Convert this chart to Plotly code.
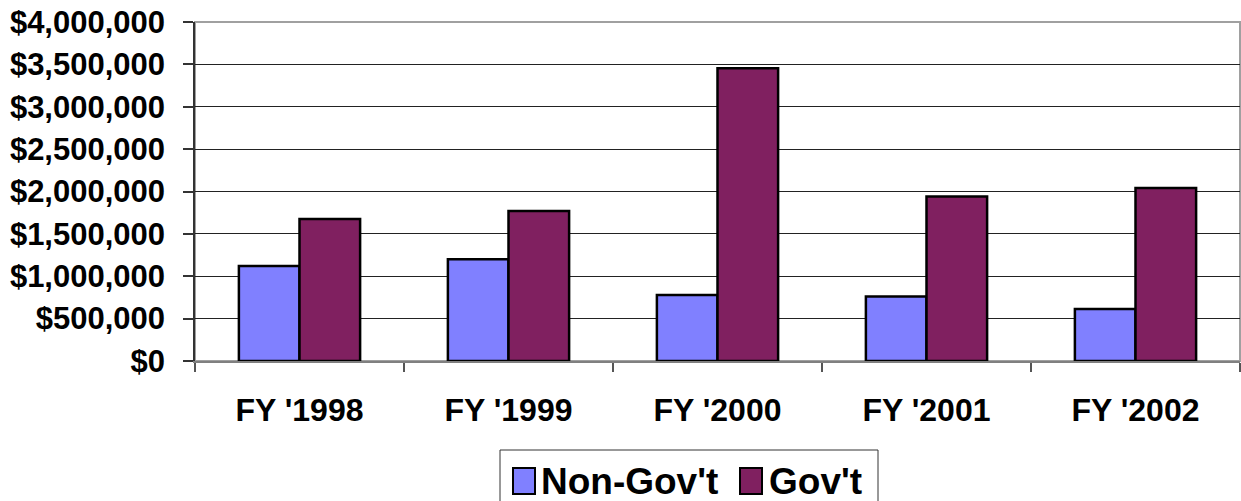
import plotly.graph_objects as go

categories = ["FY '1998", "FY '1999", "FY '2000", "FY '2001", "FY '2002"]
non_gov = [1122000, 1200000, 779000, 760000, 614000]
gov = [1676000, 1770000, 3454000, 1940000, 2041000]
series_names = ["Non-Gov't", "Gov't"]
colors = ["#8080FF", "#802060"]
y_ticks = [0, 500000, 1000000, 1500000, 2000000, 2500000, 3000000, 3500000, 4000000]
y_labels = ["$" + f"{v:,}" for v in y_ticks]

FONT = "Liberation Sans, Arial, sans-serif"

fig = go.Figure()
for name, vals, col in zip(series_names, [non_gov, gov], colors):
    fig.add_trace(go.Bar(
        x=categories, y=vals, name=name,
        marker=dict(color=col, line=dict(color="black", width=2.5)),
        showlegend=False,
    ))

# plot-area border
fig.add_shape(type="rect", xref="paper", yref="paper", x0=0, x1=1, y0=0, y1=1,
              line=dict(color="#a0a0a0", width=2), layer="below")

# manual legend (box, swatches, labels)
def px_x(p):
    return (p - 195) / 1045.0

def px_y(p):
    return (361 - p) / 339.0

fig.add_shape(type="rect", xref="paper", yref="paper",
              x0=px_x(500), x1=px_x(878), y0=px_y(502), y1=px_y(450),
              line=dict(color="#333333", width=1), fillcolor="white")
sw_x = [513, 740]
tx_x = [539, 767]
for i, name in enumerate(series_names):
    fig.add_shape(type="rect", xref="paper", yref="paper",
                  x0=px_x(sw_x[i]), x1=px_x(sw_x[i] + 22), y0=px_y(494), y1=px_y(468),
                  line=dict(color="black", width=2), fillcolor=colors[i])
    fig.add_annotation(xref="paper", yref="paper", x=px_x(tx_x[i]), y=px_y(481),
                       xanchor="left", yanchor="middle", text=name, showarrow=False,
                       font=dict(family=FONT, size=37, color="black", weight="bold"))

fig.update_layout(
    width=1241, height=501,
    margin=dict(l=195, r=1, t=22, b=140),
    paper_bgcolor="white", plot_bgcolor="white",
    barmode="group", bargap=0.42, bargroupgap=0,
    font=dict(family=FONT, color="black"),
)
fig.update_yaxes(
    range=[0, 4000000], tickvals=y_ticks, ticktext=y_labels,
    showgrid=True, gridcolor="#222222", gridwidth=1,
    showline=True, linecolor="#333333", linewidth=1.5,
    ticks="outside", ticklen=10, tickcolor="#333333", tickwidth=1.5,
    ticklabelstandoff=12, automargin=False,
    tickfont=dict(family=FONT, size=31, color="black", weight="bold"),
    zeroline=False,
)
fig.update_xaxes(
    showline=True, linecolor="#808080", linewidth=1.5,
    ticks="outside", tickson="boundaries", ticklen=9, tickcolor="#555555", tickwidth=1.5,
    ticklabelstandoff=20, automargin=False,
    tickfont=dict(family=FONT, size=32, color="black", weight="bold"),
    showgrid=False,
)

fig.write_html(
    "out.html",
    config={"displayModeBar": False},
    post_script="document.body.style.margin='0';document.body.style.overflow='hidden';",
)
